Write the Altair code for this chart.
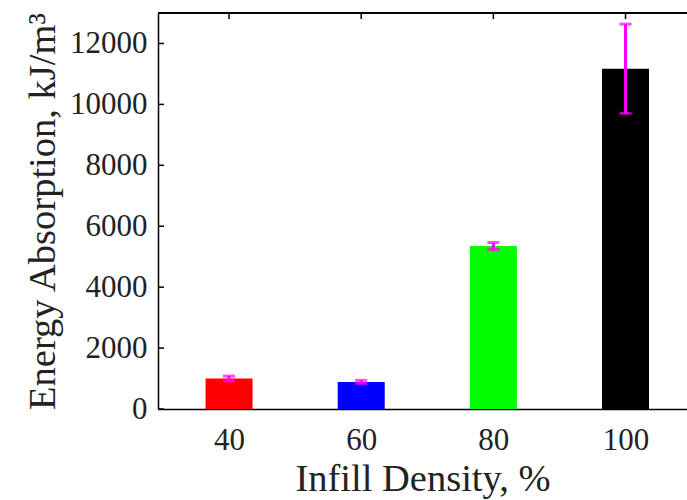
import altair as alt
import pandas as pd

density = [40, 60, 80, 100]
energy = [1000, 890, 5350, 11170]
err = [80, 50, 115, 1465]
bar_colors = ["#FF0000", "#0000FF", "#00FF00", "#000000"]
y_ticks = [0, 2000, 4000, 6000, 8000, 10000, 12000]
x_ticks = [40, 60, 80, 100]

W, H = 529, 396
FONT = "Liberation Serif"

df = pd.DataFrame({"density": density, "energy": energy, "err": err, "color": bar_colors})
df["lo"] = df["energy"] - df["err"]
df["hi"] = df["energy"] + df["err"]

xs = alt.Scale(domain=[30, 108.55], nice=False, zero=False)
ys = alt.Scale(domain=[0, 13000], nice=False)

x_axis = alt.Axis(title="Infill Density, %", values=x_ticks, ticks=False, grid=False,
                  domainColor="black", domainWidth=1.5, labelFont=FONT, labelFontSize=31,
                  labelColor="#222", labelPadding=16, titleFont=FONT, titleFontSize=38.5,
                  titleFontWeight="normal", titleColor="#222", titlePadding=5)
y_axis = alt.Axis(title="Energy Absorption, kJ/m³", values=y_ticks, format="d", ticks=False,
                  grid=False, domainColor="black", domainWidth=1.5, labelFont=FONT,
                  labelFontSize=31, labelColor="#222", labelPadding=11, titleFont=FONT,
                  titleFontSize=38.5, titleFontWeight="normal", titleColor="#222", titlePadding=7)

X = lambda f: alt.X(f, scale=xs, axis=x_axis)
Y = lambda f: alt.Y(f, scale=ys, axis=y_axis)

ytick_df = pd.DataFrame({"v": y_ticks})
xtick_df = pd.DataFrame({"v": x_ticks})

ytk = alt.Chart(ytick_df).mark_rule(color="black", strokeWidth=1.5).encode(
    y=Y("v:Q"), x=alt.value(0), x2=alt.value(6))
xtk_top = alt.Chart(xtick_df).mark_rule(color="black", strokeWidth=1.5).encode(
    x=X("v:Q"), y=alt.value(0), y2=alt.value(6))
xtk_bot = alt.Chart(xtick_df).mark_rule(color="black", strokeWidth=1.5).encode(
    x=X("v:Q"), y=alt.value(H), y2=alt.value(H - 6))
top_border = alt.Chart(xtick_df).mark_rule(color="black", strokeWidth=1.5).encode(
    x=alt.value(0), x2=alt.value(W), y=alt.value(0))

base = alt.Chart(df)
bars = base.mark_bar(size=47).encode(
    x=X("density:Q"), y=Y("energy:Q"),
    color=alt.Color("color:N", scale=None))
whisk = base.mark_rule(color="#FF00FF", strokeWidth=3).encode(
    x=X("density:Q"), y=Y("lo:Q"), y2="hi:Q")
cap_lo = base.mark_tick(color="#FF00FF", orient="horizontal", size=12, thickness=3).encode(
    x=X("density:Q"), y=Y("lo:Q"))
cap_hi = base.mark_tick(color="#FF00FF", orient="horizontal", size=12, thickness=3).encode(
    x=X("density:Q"), y=Y("hi:Q"))

chart = alt.layer(ytk, xtk_top, xtk_bot, top_border, bars, whisk, cap_lo, cap_hi).properties(
    width=W, height=H, autosize=alt.AutoSizeParams(type="none"),
    padding={"left": 158, "top": 13, "right": 0, "bottom": 91},
    background="white",
).configure_view(stroke=None)

chart.save("out.html", embed_options={"renderer": "svg", "actions": False})
